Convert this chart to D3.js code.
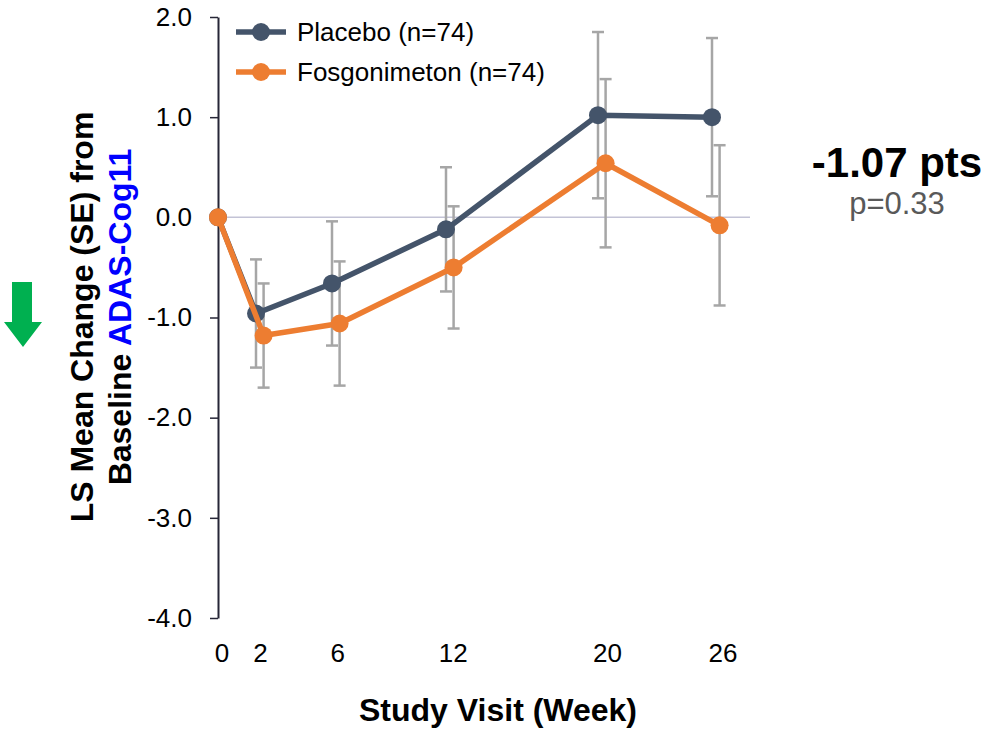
<!DOCTYPE html>
<html>
<head>
<meta charset="utf-8">
<script src="https://cdn.jsdelivr.net/npm/d3@7"></script>
<style>
  body { margin: 0; background: #fff; }
  text { font-family: "Liberation Sans", Arial, sans-serif; }
</style>
</head>
<body>
<script>
// data
const weeks = [0, 2, 6, 12, 20, 26];
const placeboMean = [0, -0.96, -0.66, -0.12, 1.02, 1.00];
const placeboSE   = [0, 0.54, 0.62, 0.62, 0.83, 0.79];
const fosgoMean   = [0, -1.18, -1.06, -0.50, 0.54, -0.08];
const fosgoSE     = [0, 0.52, 0.62, 0.61, 0.84, 0.80];
const yTicks = [2, 1, 0, -1, -2, -3, -4];
const seriesNames = ["Placebo (n=74)", "Fosgonimeton (n=74)"];
const diffLabel = "-1.07 pts";
const pLabel = "p=0.33";

const colors = ["#44546a", "#ed7d31"];
const dodge = [0, 0.4];   // week offset of each series (except baseline)

let width = 987, height = 730;
let svg = d3.select("body").append("svg")
  .attr("width", width)
  .attr("height", height);

let xScale = d3.scaleLinear().domain([0, 26]).range([218, 712]);
let labelScale = d3.scaleLinear().domain([0, 26]).range([222, 723]);
let yScale = d3.scaleLinear().domain([-4, 2]).range([618, 17]);

// zero line
svg.append("line")
  .attr("x1", xScale(0)).attr("x2", 750)
  .attr("y1", yScale(0)).attr("y2", yScale(0))
  .attr("stroke", "#c3c3d6").attr("stroke-width", 1.5);

// y axis
let yAxis = d3.axisLeft(yScale)
  .tickValues(yTicks)
  .tickSizeInner(8).tickSizeOuter(0).tickPadding(18)
  .tickFormat(d => d.toFixed(1));

let yg = svg.append("g")
  .attr("transform", "translate(" + xScale(0) + ",0)")
  .call(yAxis);
yg.select(".domain").attr("stroke", "#262637").attr("stroke-width", 2);
yg.selectAll(".tick line").attr("stroke", "#262637").attr("stroke-width", 1.5);
yg.selectAll(".tick text")
  .style("font-size", "26px").style("fill", "#000")
  .attr("font-family", "Liberation Sans, Arial, sans-serif");

// x tick labels (no axis line)
svg.append("g").selectAll("text")
  .data(weeks)
  .enter()
  .append("text")
  .attr("x", d => labelScale(d))
  .attr("y", 662)
  .attr("text-anchor", "middle")
  .style("font-size", "26px")
  .text(d => d);

// axis titles
svg.append("text")
  .attr("x", 498).attr("y", 721)
  .attr("text-anchor", "middle")
  .style("font-size", "32px").style("font-weight", "bold")
  .text("Study Visit (Week)");

let yt = svg.append("text")
  .attr("transform", "translate(93,317) rotate(-90)")
  .attr("text-anchor", "middle")
  .style("font-size", "32px").style("font-weight", "bold");
yt.append("tspan").attr("x", 0).attr("y", 0).text("LS Mean Change (SE) from");
yt.append("tspan").attr("x", 0).attr("y", 38).text("Baseline ");
yt.append("tspan").style("fill", "#0000ff").text("ADAS-Cog11");

// green arrow
svg.append("path")
  .attr("d", "M12,282 L32,282 L32,322 L42,322 L23,347 L4,322 L12,322 Z")
  .attr("fill", "#00b050");

let series = [
  {name: seriesNames[0], mean: placeboMean, se: placeboSE, color: colors[0], dodge: dodge[0]},
  {name: seriesNames[1], mean: fosgoMean, se: fosgoSE, color: colors[1], dodge: dodge[1]}
];
series.forEach(s => {
  s.points = weeks.map((w, i) => ({
    x: w === 0 ? 0 : w + s.dodge, m: s.mean[i], se: s.se[i]
  }));
});

// error bars
series.forEach(s => {
  let g = svg.append("g").attr("stroke", "#a6a6a6").attr("stroke-width", 2.5);
  s.points.filter(p => p.se > 0).forEach(p => {
    let cx = xScale(p.x);
    g.append("line").attr("x1", cx).attr("x2", cx)
      .attr("y1", yScale(p.m + p.se)).attr("y2", yScale(p.m - p.se));
    g.append("line").attr("x1", cx - 6).attr("x2", cx + 6)
      .attr("y1", yScale(p.m + p.se)).attr("y2", yScale(p.m + p.se));
    g.append("line").attr("x1", cx - 6).attr("x2", cx + 6)
      .attr("y1", yScale(p.m - p.se)).attr("y2", yScale(p.m - p.se));
  });
});

// lines and markers
let line = d3.line().x(d => xScale(d.x)).y(d => yScale(d.m));
series.forEach(s => {
  svg.append("path")
    .datum(s.points)
    .attr("d", line)
    .attr("fill", "none")
    .attr("stroke", s.color)
    .attr("stroke-width", 5.5)
    .attr("stroke-linejoin", "round");
  svg.append("g").selectAll("circle")
    .data(s.points)
    .enter()
    .append("circle")
    .attr("cx", d => xScale(d.x))
    .attr("cy", d => yScale(d.m))
    .attr("r", 9)
    .attr("fill", s.color);
});

// legend
series.forEach((s, i) => {
  let ly = 32 + i * 40;
  svg.append("line")
    .attr("x1", 236).attr("x2", 286)
    .attr("y1", ly).attr("y2", ly)
    .attr("stroke", s.color).attr("stroke-width", 5.5);
  svg.append("circle")
    .attr("cx", 261).attr("cy", ly).attr("r", 9)
    .attr("fill", s.color);
  svg.append("text")
    .attr("x", 297).attr("y", ly + 9)
    .style("font-size", "26px")
    .text(s.name);
});

// annotation
svg.append("text")
  .attr("x", 897).attr("y", 177)
  .attr("text-anchor", "middle")
  .style("font-size", "42px").style("font-weight", "bold")
  .text(diffLabel);
svg.append("text")
  .attr("x", 897).attr("y", 214)
  .attr("text-anchor", "middle")
  .style("font-size", "31px").style("fill", "#595959")
  .text(pLabel);
</script>
</body>
</html>
